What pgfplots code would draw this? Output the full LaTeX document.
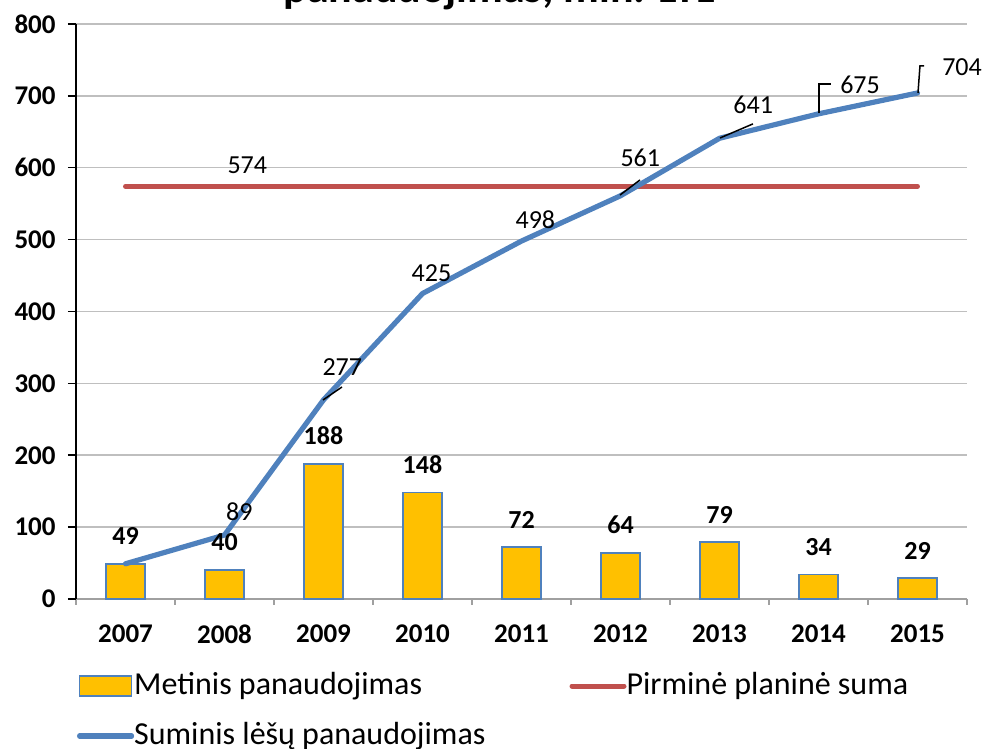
\documentclass[border=0pt]{standalone}
\usepackage{pgfplots}
\pgfplotsset{compat=1.18}
\usepackage{fontspec}
\setmainfont{Carlito}
\definecolor{barfill}{HTML}{FFC000}
\definecolor{baredge}{HTML}{4F81BD}
\definecolor{sumline}{HTML}{4F81BD}
\definecolor{planline}{HTML}{C0504D}
\definecolor{gridgray}{HTML}{BFBFBF}
\definecolor{axgray}{HTML}{A0A0A0}
\pgfplotsset{
  barlegend/.style={legend image code/.code={\draw[##1] (0pt,-5pt) rectangle (26pt,5pt);}},
  linelegend/.style={legend image code/.code={\draw[##1] (0pt,0pt) -- (26pt,0pt);}},
}
\begin{document}
\begin{tikzpicture}
\useasboundingbox (-38pt,-75pt) rectangle (455pt,299.5pt);
\node[font=\bfseries\fontsize{22}{26}\selectfont, anchor=base] at (211.5pt,298.2pt) {panaudojimas, mln. LTL};
\begin{axis}[
  at={(0,0)}, anchor=south west,
  width=445.5pt, height=287.5pt, scale only axis,
  clip=false,
  xmin=-0.5, xmax=8.5, ymin=0, ymax=800,
  ytick={0,100,...,800},
  xtick={0,...,8},
  xticklabels={2007,2008,2009,2010,2011,2012,2013,2014,2015},
  minor xtick={-0.5,0.5,...,8.5},
  axis x line*=bottom, axis y line*=left,
  x axis line style={draw=axgray, line width=0.75pt},
  y axis line style={draw=black, line width=0.75pt},
  major x tick style={draw=none},
  minor x tick style={draw=axgray, line width=0.75pt},
  ytick style={draw=black, line width=0.75pt},
  tick align=outside,
  major tick length=4pt, minor tick length=3pt,
  ymajorgrids, major grid style={draw=gridgray, line width=0.75pt},
  tick label style={font=\bfseries\fontsize{13.5}{16}\selectfont},
  /pgf/number format/assume math mode=true,
  y tick label style={inner sep=0pt, xshift=-6pt},
  x tick label style={inner sep=0pt, yshift=-8.9pt},
  legend entries={Metinis panaudojimas, Pirminė planinė suma, Suminis lėšų panaudojimas},
  legend columns=2,
  legend cell align=left,
  legend style={at={(0.0011,-0.127)}, anchor=north west, draw=none, fill=none,
    inner sep=0pt, outer sep=0pt,
    font=\fontsize{16}{19}\selectfont,
    nodes={inner sep=0pt, text height=11pt, text depth=3pt},
    row sep=11pt,
    /tikz/every odd column/.append style={column sep=0pt},
    /tikz/every even column/.append style={column sep=42pt}},
]
\addplot[ybar, bar width=19.5pt, fill=barfill, draw=baredge, line width=0.75pt,
  nodes near coords,
  every node near coord/.append style={font=\bfseries\fontsize{13}{15}\selectfont, inner sep=0pt, yshift=9.2pt, black},
  barlegend]
  coordinates {(0,49) (1,40) (2,188) (3,148) (4,72) (5,64) (6,79) (7,34) (8,29)};
\addplot[planline, line width=2.5pt, line cap=round, linelegend]
  coordinates {(0,574) (8,574)};
\addplot[sumline, line width=2.6pt, line cap=round, line join=round, linelegend]
  coordinates {(0,49) (1,89) (2,277) (3,425) (4,498) (5,561) (6,641) (7,675) (8,704)};
% leader lines
\draw[black, line width=0.75pt] (axis cs:1.995,276.9) -- (axis cs:2.187,295);
\draw[black, line width=0.75pt] (axis cs:4.995,562) -- (axis cs:5.197,583);
\draw[black, line width=0.75pt] (axis cs:6.005,641.4) -- (axis cs:6.338,661);
\draw[black, line width=0.75pt] (axis cs:7.005,676) -- (axis cs:7.005,716.5) -- (axis cs:7.126,716.5);
\draw[black, line width=0.75pt] (axis cs:8.005,704) -- (axis cs:8.025,741.6) -- (axis cs:8.066,741.6);
% data labels of the lines
\begin{scope}[every node/.style={font=\fontsize{13}{15}\selectfont, inner sep=0pt, anchor=center}]
\node at (axis cs:1.23,604) {574};
\node at (axis cs:1.15,121) {89};
\node at (axis cs:2.19,323) {277};
\node at (axis cs:3.09,454) {425};
\node at (axis cs:4.14,527) {498};
\node at (axis cs:5.2,614) {561};
\node at (axis cs:6.34,687) {641};
\node at (axis cs:7.42,715) {675};
\node at (axis cs:8.45,740) {704};
\end{scope}
\end{axis}
\end{tikzpicture}
\end{document}
